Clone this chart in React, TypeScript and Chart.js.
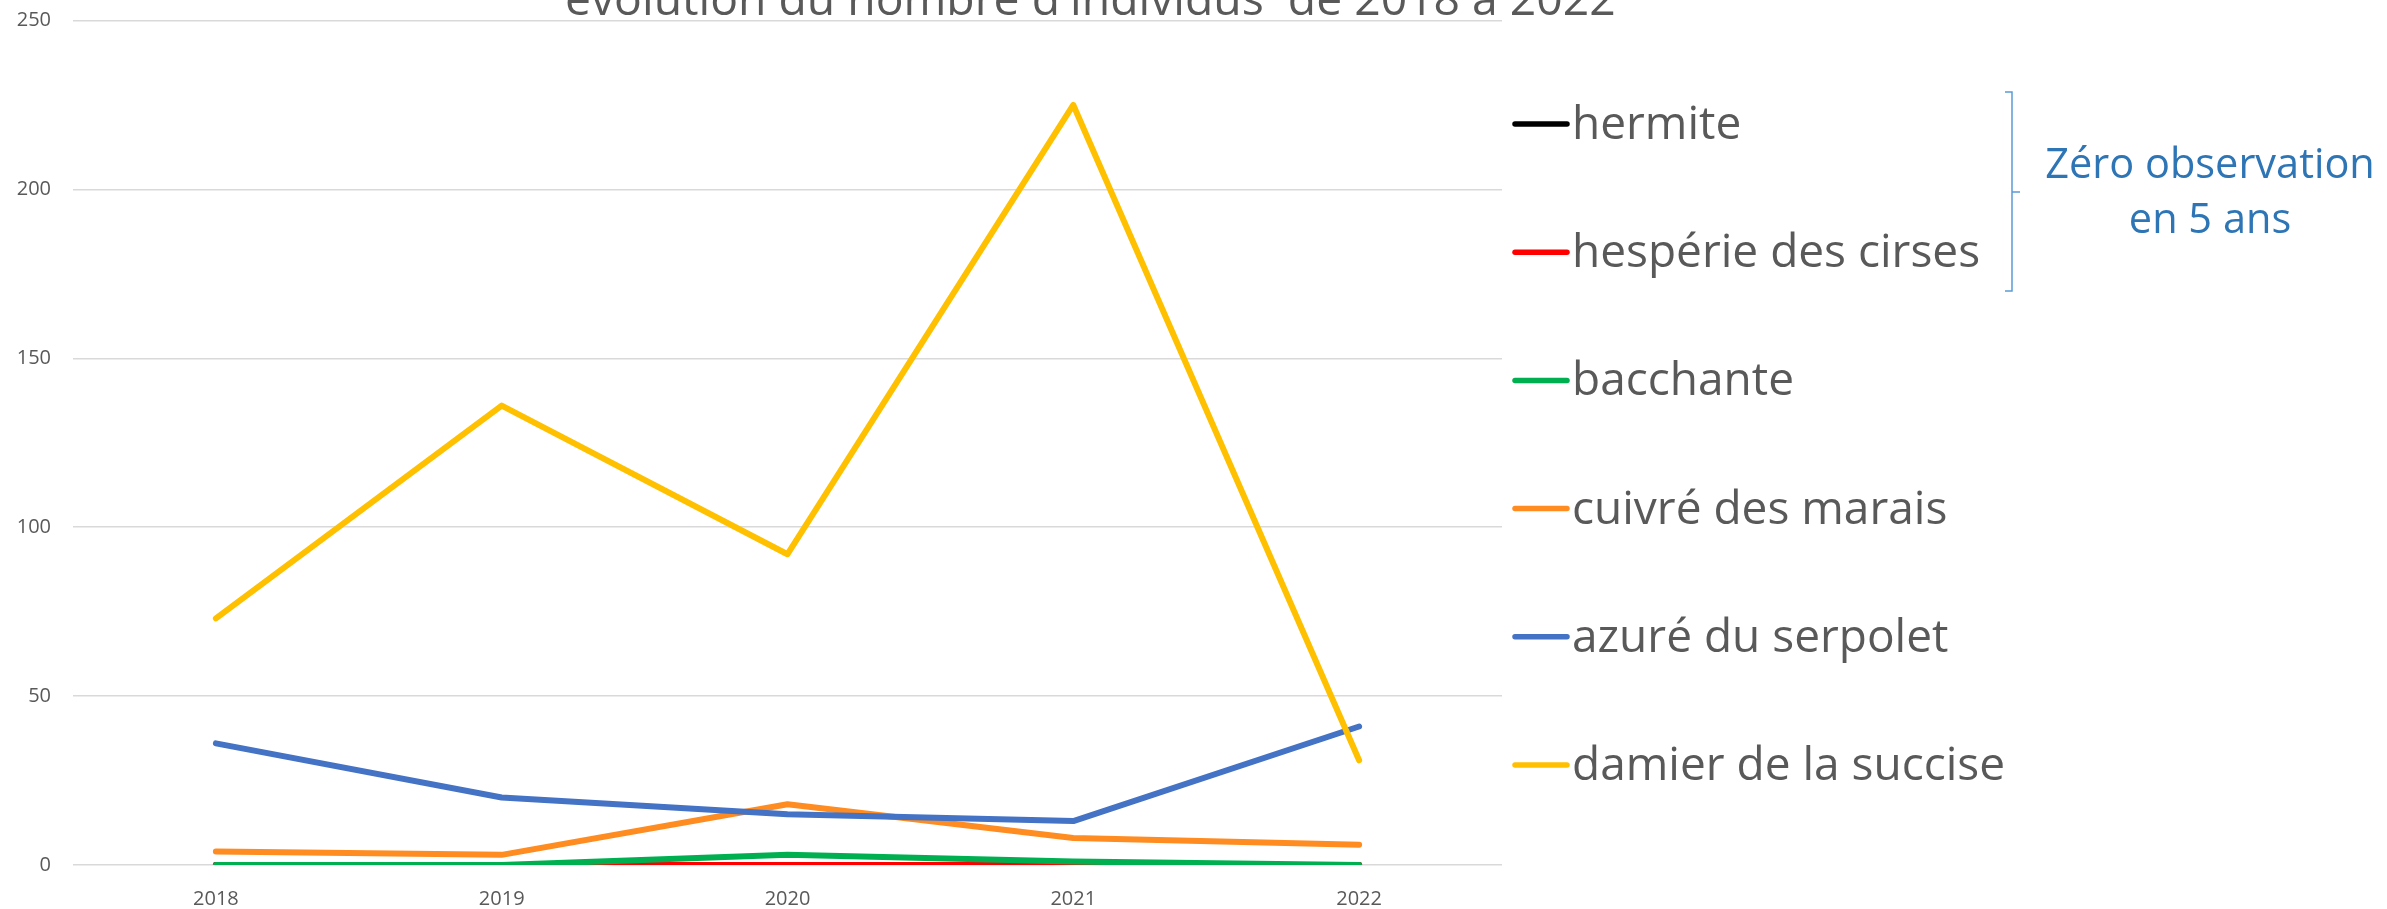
import React, { useEffect, useRef } from "react";
import { Chart, registerables } from "chart.js";

Chart.register(...registerables);

const years = ["2018", "2019", "2020", "2021", "2022"];
const seriesNames = [
  "hermite",
  "hespérie des cirses",
  "bacchante",
  "cuivré des marais",
  "azuré du serpolet",
  "damier de la succise",
];
const hermite = [0, 0, 0, 0, 0];
const hesperie = [0, 0, 0, 0, 0];
const bacchante = [0, 0, 3, 1, 0];
const cuivre = [4, 3, 18, 8, 6];
const azure = [36, 20, 15, 13, 41];
const damier = [73, 136, 92, 225, 31];
const seriesColors = ["#000000", "#FF0000", "#00B050", "#FF8C21", "#4472C4", "#FFC000"];
const titleText = "évolution du nombre d'individus  de 2018 à 2022";
const noteLines = ["Zéro observation", "en 5 ans"];

const FONT = '"Open Sans", "DejaVu Sans", sans-serif';

const overlayPlugin = {
  id: "overlay",
  afterDraw(chart: any) {
    const ctx = chart.ctx as CanvasRenderingContext2D;
    ctx.save();
    // Title (partly above the canvas)
    ctx.fillStyle = "#595959";
    ctx.font = `48px ${FONT}`;
    const w = ctx.measureText(titleText).width;
    const size = (48 * 1051) / w;
    ctx.font = `${size}px ${FONT}`;
    ctx.textAlign = "left";
    ctx.textBaseline = "alphabetic";
    ctx.fillText(titleText, 565, 15);

    // Legend
    const legendTop = 124;
    const legendStep = 128.2;
    seriesNames.forEach((name, i) => {
      const y = legendTop + i * legendStep;
      ctx.strokeStyle = seriesColors[i];
      ctx.lineWidth = 5.5;
      ctx.lineCap = "round";
      ctx.beginPath();
      ctx.moveTo(1515, y);
      ctx.lineTo(1567, y);
      ctx.stroke();
      ctx.fillStyle = "#595959";
      ctx.font = `46px ${FONT}`;
      ctx.textAlign = "left";
      ctx.textBaseline = "alphabetic";
      ctx.fillText(name, 1572, y + 15);
    });

    // Bracket
    ctx.strokeStyle = "#5B9BD5";
    ctx.lineWidth = 1.5;
    ctx.lineCap = "butt";
    ctx.beginPath();
    ctx.moveTo(2005, 92);
    ctx.lineTo(2012, 92);
    ctx.lineTo(2012, 291);
    ctx.lineTo(2005, 291);
    ctx.moveTo(2012, 192);
    ctx.lineTo(2020, 192);
    ctx.stroke();

    // Note
    ctx.fillStyle = "#2E75B6";
    ctx.font = `41.5px ${FONT}`;
    ctx.textAlign = "center";
    ctx.fillText(noteLines[0], 2210, 178);
    ctx.fillText(noteLines[1], 2210, 233);
    ctx.restore();
  },
};

export default function App() {
  const ref = useRef<HTMLCanvasElement | null>(null);
  useEffect(() => {
    const canvas = ref.current!;
    const data = [hermite, hesperie, bacchante, cuivre, azure, damier];
    const chart = new Chart(canvas, {
      type: "line",
      data: {
        labels: years,
        datasets: seriesNames.map((name, i) => ({
          label: name,
          data: data[i],
          borderColor: seriesColors[i],
          backgroundColor: seriesColors[i],
          borderWidth: 6,
          borderCapStyle: "round" as const,
          borderJoinStyle: "round" as const,
          pointRadius: 0,
          tension: 0,
          fill: false,
          order: seriesNames.length - i,
        })),
      },
      options: {
        responsive: false,
        animation: false,
        layout: { padding: { left: 0, right: 885, top: 20.5, bottom: 0 } },
        plugins: {
          legend: { display: false },
          title: { display: false },
          tooltip: { enabled: false },
        },
        scales: {
          x: {
            offset: true,
            grid: { display: false, drawTicks: false },
            border: { display: false },
            ticks: {
              color: "#595959",
              font: { family: FONT, size: 20 },
              padding: 22,
              maxRotation: 0,
            },
            afterFit(scale: any) {
              scale.height = 44;
              scale.paddingLeft = 0;
              scale.paddingRight = 0;
            },
          },
          y: {
            min: 0,
            max: 250,
            grid: { color: "#D9D9D9", lineWidth: 1.5, drawTicks: false },
            border: { display: false },
            ticks: {
              stepSize: 50,
              color: "#595959",
              font: { family: FONT, size: 20 },
              padding: 22,
            },
            afterFit(scale: any) {
              scale.width = 73;
              scale.paddingTop = 0;
              scale.paddingBottom = 0;
            },
          },
        },
      },
      plugins: [overlayPlugin],
    });
    return () => chart.destroy();
  }, []);
  return (
    <div style={{ position: "absolute", left: 0, top: 0, width: 2387, height: 909, background: "#fff" }}>
      <canvas ref={ref} width={2387} height={909} style={{ width: 2387, height: 909, display: "block" }} />
    </div>
  );
}
